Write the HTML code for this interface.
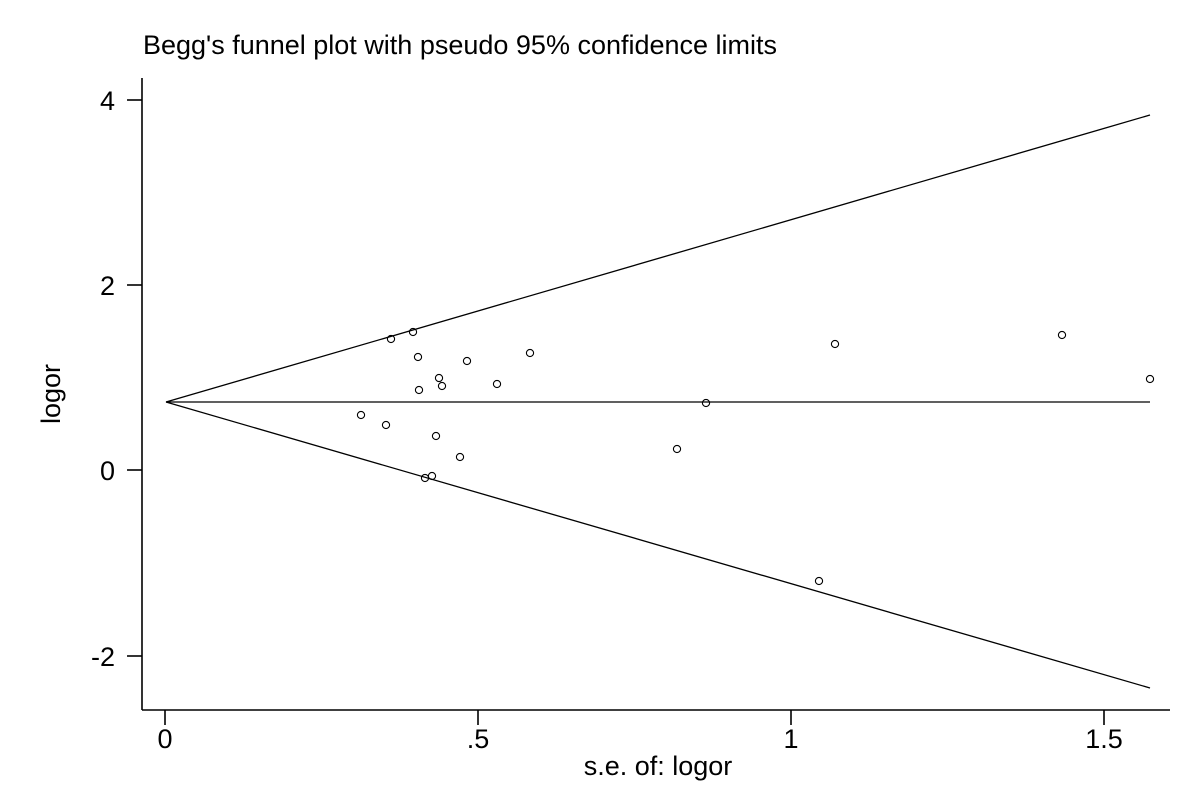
<!DOCTYPE html>
<html><head><style>body{margin:0;background:#fff}svg{display:block}</style></head><body>
<svg width="1201" height="801" xmlns="http://www.w3.org/2000/svg" font-family="Liberation Sans, Arial, sans-serif">
<rect width="1201" height="801" fill="#fff"/>
<text x="143" y="54" font-size="27">Begg's funnel plot with pseudo 95% confidence limits</text>
<g stroke="#000" stroke-width="1.6" fill="none">
<line x1="142" y1="78" x2="142" y2="710"/>
<line x1="142" y1="710" x2="1170" y2="710"/>
<line x1="127" y1="100" x2="142" y2="100"/>
<line x1="127" y1="285" x2="142" y2="285"/>
<line x1="127" y1="470" x2="142" y2="470"/>
<line x1="127" y1="656" x2="142" y2="656"/>
<line x1="165" y1="710" x2="165" y2="725"/>
<line x1="478" y1="710" x2="478" y2="725"/>
<line x1="791" y1="710" x2="791" y2="725"/>
<line x1="1104" y1="710" x2="1104" y2="725"/>
</g>
<g stroke="#000" stroke-width="1.3" fill="none">
<line x1="166" y1="402" x2="1150" y2="115"/>
<line x1="166" y1="402" x2="1150" y2="688"/>
<line x1="166" y1="402" x2="1150" y2="402"/>
</g>
<g font-size="27" text-anchor="end">
<text x="115" y="110">4</text><text x="115" y="295">2</text><text x="115" y="480">0</text><text x="115" y="666">-2</text>
</g>
<g font-size="27" text-anchor="middle">
<text x="165" y="748">0</text><text x="478" y="748">.5</text><text x="791" y="748">1</text><text x="1104" y="748">1.5</text>
<text x="658" y="775">s.e. of: logor</text>
</g>
<text transform="translate(60,394) rotate(-90)" font-size="27" text-anchor="middle">logor</text>
<g stroke="#000" stroke-width="1.1" fill="none">
<circle cx="391" cy="339" r="3.6"/><circle cx="413" cy="332" r="3.6"/><circle cx="418" cy="357" r="3.6"/>
<circle cx="467" cy="361" r="3.6"/><circle cx="530" cy="353" r="3.6"/><circle cx="439" cy="378" r="3.6"/>
<circle cx="442" cy="386" r="3.6"/><circle cx="419" cy="390" r="3.6"/><circle cx="497" cy="384" r="3.6"/>
<circle cx="361" cy="415" r="3.6"/><circle cx="386" cy="425" r="3.6"/><circle cx="436" cy="436" r="3.6"/>
<circle cx="460" cy="457" r="3.6"/><circle cx="425" cy="478" r="3.6"/><circle cx="432" cy="476" r="3.6"/>
<circle cx="677" cy="449" r="3.6"/><circle cx="706" cy="403" r="3.6"/><circle cx="835" cy="344" r="3.6"/>
<circle cx="819" cy="581" r="3.6"/><circle cx="1062" cy="335" r="3.6"/><circle cx="1150" cy="379" r="3.6"/>
</g>
</svg>
</body></html>
